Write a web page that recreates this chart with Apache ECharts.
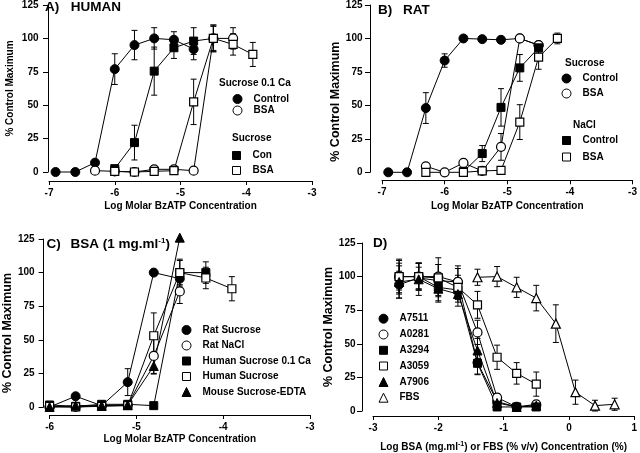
<!DOCTYPE html>
<html><head><meta charset="utf-8">
<script src="https://cdn.jsdelivr.net/npm/echarts@6/dist/echarts.min.js"></script>
<style>html,body{margin:0;padding:0;background:#fff}#c{width:640px;height:453px}</style>
</head><body><div id="c"></div>
<script>
// ---------- Panel A: HUMAN ----------
const aCtrlX = [-6.9,-6.6,-6.3,-6.0,-5.7,-5.4,-5.1,-4.8];
const aCtrlY = [0,0,7,77,95,100,99,92];
const aCtrlE = [0,0,0,11.5,11,8,6,8];
const aBsaX  = [-6.3,-6.0,-5.7,-5.4,-5.1,-4.8,-4.5,-4.2];
const aBsaY  = [1,0.5,0,2,2,1,100,100];
const aBsaE  = [0,0,0,0,0,0,10,8];
const aConX  = [-6.0,-5.7,-5.4,-5.1,-4.8,-4.5];
const aConY  = [2.5,22,75.5,93,98,100];
const aConE  = [0,13,18,8,10,9];
const aSBsaX = [-6.0,-5.7,-5.4,-5.1,-4.8,-4.5,-4.2,-3.9];
const aSBsaY = [0.5,0,0.5,1,52.5,100,95.5,88];
const aSBsaE = [0,0,0,0,17,10,8,9];
// ---------- Panel B: RAT ----------
const bCtrlX = [-6.9,-6.6,-6.3,-6.0,-5.7,-5.4,-5.1,-4.8,-4.5];
const bCtrlY = [0,0,48,83.5,100,99.5,99,100,95];
const bCtrlE = [0,0,11.5,5,0,0,0,0,0];
const bBsaX  = [-6.3,-6.0,-5.7,-5.4,-5.1,-4.8,-4.5];
const bBsaY  = [4.5,0,7,1,19,100,95];
const bBsaE  = [0,0,0,0,10,0,0];
const bNCtrlX = [-5.7,-5.4,-5.1,-4.8,-4.5];
const bNCtrlY = [0.5,14,48.5,78,93];
const bNCtrlE = [0,6,14,10,4];
const bNBsaX = [-6.3,-5.7,-5.4,-5.1,-4.8,-4.5,-4.2];
const bNBsaY = [0,0,1,1.5,37.5,86,100];
const bNBsaE = [0,0,0,0,13,9,4];
// ---------- Panel C: BSA (1 mg/ml) ----------
const cRatSucX = [-6.0,-5.7,-5.4,-5.1,-4.8,-4.5];
const cRatSucY = [0,8,1,18.5,100,95.5];
const cRatSucE = [0,0,0,10,0,0];
const cRatNaX  = [-6.0,-5.7,-5.4,-5.1,-4.8,-4.5];
const cRatNaY  = [0,0,1,1.5,38,86];
const cRatNaE  = [0,0,0,0,13,9];
const cHumCaX  = [-6.0,-5.7,-5.4,-5.1,-4.8,-4.5,-4.2];
const cHumCaY  = [1.5,0.5,2,2,1,100,100];
const cHumCaE  = [0,0,0,0,0,10,8];
const cHumX    = [-6.0,-5.7,-5.4,-5.1,-4.8,-4.5,-4.2,-3.9];
const cHumY    = [0.5,0,0.5,1,53,100,96,88];
const cHumE    = [0,0,0,0,17,9,8,9];
const cMouseX  = [-6.0,-5.7,-5.4,-5.1,-4.8,-4.5];
const cMouseY  = [0,1,1,1.5,30.5,126];
const cMouseE  = [0,0,0,0,6,0];
// ---------- Panel D ----------
const dX      = [-2.6,-2.3,-2.0,-1.7,-1.4,-1.1,-0.8,-0.5];
const dA7511  = [94,99,97,96,36,7,3,4];
const dA7511E = [10,8,12,10,9,3,2,3];
const dA0281  = [100,100,100,96,58.5,10,3,5];
const dA0281E = [13,10,14,12,9,3,2,2];
const dA3294  = [100,100,92,90,35.5,3,3,3];
const dA3294E = [12,10,10,9,8,2,2,2];
const dA3059  = [100,100,99,92,79,40,28,20];
const dA3059E = [10,10,10,9,10,9,8,9];
const dA7906  = [96,98,91,87,45,6,3,4];
const dA7906E = [12,12,10,9,9,3,2,2];
const dFbsX   = [-1.4,-1.1,-0.8,-0.5,-0.2,0.1,0.4,0.7];
const dFbs    = [99.5,100,92,84,65,14,4,5];
const dFbsE   = [6,7.5,7.5,9.5,14,9,4,4.5];

const yTicks = [0,25,50,75,100,125];

const FONT = '"Liberation Sans", Arial, Helvetica, sans-serif';
const BLACK = '#000';

function errRender(params, api){
  const x = api.value(0), lo = api.value(1), hi = api.value(2);
  const p1 = api.coord([x, lo]), p2 = api.coord([x, hi]);
  const w = 3, st = {stroke: BLACK, lineWidth: 1};
  return {type:'group', children:[
    {type:'line', shape:{x1:p1[0],y1:p1[1],x2:p2[0],y2:p2[1]}, style:st},
    {type:'line', shape:{x1:p1[0]-w,y1:p1[1],x2:p1[0]+w,y2:p1[1]}, style:st},
    {type:'line', shape:{x1:p2[0]-w,y1:p2[1],x2:p2[0]+w,y2:p2[1]}, style:st}
  ]};
}

const series = [];
const SIZE = {circle:9, rect:8, triangle:9};
function addSeries(g, name, xs, ys, es, sym, filled){
  const ed = [];
  xs.forEach((x,i)=>{ if(es[i]>0) ed.push([x, ys[i]-es[i], ys[i]+es[i]]); });
  series.push({type:'custom', name:name+'_err', xAxisIndex:g, yAxisIndex:g, z:1, silent:true,
    encode:{x:0, y:[1,2]}, data:ed, renderItem:errRender, clip:false});
  series.push({type:'line', name, xAxisIndex:g, yAxisIndex:g, z:2,
    data: xs.map((x,i)=>[x, ys[i]]), symbol:sym, symbolSize:SIZE[sym],
    showSymbol:true, showAllSymbol:true, clip:false, silent:true,
    lineStyle:{color:BLACK, width:1},
    itemStyle: filled ? {color:BLACK, borderColor:BLACK, borderWidth:1}
                      : {color:'#fff', borderColor:BLACK, borderWidth:1.2},
    emphasis:{disabled:true}});
}

const legends = [];
function addLegend(name, label, icon, cx, cy){
  const s = SIZE[icon];
  legends.push({show:true, data:[{name, icon}], left:cx-s/2, top:cy-6, orient:'vertical',
    padding:0, itemWidth:s, itemHeight:s, selectedMode:false,
    itemStyle:{borderWidth:1},
    formatter:()=>label,
    textStyle:{fontSize:10, fontWeight:'bold', fontFamily:FONT, color:BLACK, lineHeight:12,
      padding:[0,0,0,16 - s/2 - 5]}});
}

// Panel A
addSeries(0,'aCtrl',aCtrlX,aCtrlY,aCtrlE,'circle',true);
addSeries(0,'aBsa',aBsaX,aBsaY,aBsaE,'circle',false);
addSeries(0,'aCon',aConX,aConY,aConE,'rect',true);
addSeries(0,'aSBsa',aSBsaX,aSBsaY,aSBsaE,'rect',false);
// Panel B
addSeries(1,'bCtrl',bCtrlX,bCtrlY,bCtrlE,'circle',true);
addSeries(1,'bBsa',bBsaX,bBsaY,bBsaE,'circle',false);
addSeries(1,'bNCtrl',bNCtrlX,bNCtrlY,bNCtrlE,'rect',true);
addSeries(1,'bNBsa',bNBsaX,bNBsaY,bNBsaE,'rect',false);
// Panel C
addSeries(2,'cRatSuc',cRatSucX,cRatSucY,cRatSucE,'circle',true);
addSeries(2,'cRatNa',cRatNaX,cRatNaY,cRatNaE,'circle',false);
addSeries(2,'cHumCa',cHumCaX,cHumCaY,cHumCaE,'rect',true);
addSeries(2,'cHum',cHumX,cHumY,cHumE,'rect',false);
addSeries(2,'cMouse',cMouseX,cMouseY,cMouseE,'triangle',true);
// Panel D
addSeries(3,'dA7511',dX,dA7511,dA7511E,'circle',true);
addSeries(3,'dA0281',dX,dA0281,dA0281E,'circle',false);
addSeries(3,'dA3294',dX,dA3294,dA3294E,'rect',true);
addSeries(3,'dA3059',dX,dA3059,dA3059E,'rect',false);
addSeries(3,'dA7906',dX,dA7906,dA7906E,'triangle',true);
addSeries(3,'dFbs',dFbsX,dFbs,dFbsE,'triangle',false);

// Legends
addLegend('aCtrl','Control','circle',237,99);
addLegend('aBsa','BSA','circle',237,110.5);
addLegend('aCon','Con','rect',236,155.5);
addLegend('aSBsa','BSA','rect',236,170.5);
addLegend('bCtrl','Control','circle',566,78.5);
addLegend('bBsa','BSA','circle',566,93.5);
addLegend('bNCtrl','Control','rect',566,140.5);
addLegend('bNBsa','BSA','rect',566,157);
addLegend('cRatSuc','Rat Sucrose','circle',186,330);
addLegend('cRatNa','Rat NaCl','circle',186,345.5);
addLegend('cHumCa','Human Sucrose 0.1 Ca','rect',186,361);
addLegend('cHum','Human Sucrose','rect',186,376.5);
addLegend('cMouse','Mouse Sucrose-EDTA','triangle',186,392);
addLegend('dA7511','A7511','circle',383,318.7);
addLegend('dA0281','A0281','circle',383,334.5);
addLegend('dA3294','A3294','rect',383,350.3);
addLegend('dA3059','A3059','rect',383,366);
addLegend('dA7906','A7906','triangle',383,382);
addLegend('dFbs','FBS','triangle',383,397.7);

const grids = [
  {left:49, top:3.5, width:263, height:168.5},
  {left:382, top:3.6, width:254, height:168.7},
  {left:46.7, top:239, width:263.3, height:168},
  {left:373, top:243, width:265, height:168}
];
const lbl = {fontSize:10, fontWeight:'bold', fontFamily:FONT, color:BLACK};
function xAx(g, min, max, off, name, gap, rich){
  return {type:'value', gridIndex:g, min, max, interval:1, offset:off,
    axisLine:{show:true, onZero:false, lineStyle:{color:BLACK, width:1}},
    axisTick:{show:true, length:4, lineStyle:{color:BLACK}},
    axisLabel:Object.assign({margin:7, showMinLabel:true, showMaxLabel:true}, lbl),
    splitLine:{show:false},
    name, nameLocation:'middle', nameGap:gap,
    nameTextStyle:Object.assign({}, lbl, rich ? {rich} : {})};
}
function yAx(g, off, margin, nameSize, gap, shift){
  return {type:'value', gridIndex:g, min:yTicks[0], max:yTicks[yTicks.length-1], interval:25, offset:off,
    axisLine:{show:true, onZero:false, lineStyle:{color:BLACK, width:1}},
    axisTick:{show:true, length:5, lineStyle:{color:BLACK}},
    axisLabel:Object.assign({margin}, lbl),
    splitLine:{show:false},
    name:'% Control Maximum', nameLocation:'middle', nameGap:gap,
    nameTextStyle:Object.assign({}, lbl, {fontSize:nameSize, padding:[0, 2*shift, 0, 0]})};
}
const xName = 'Log Molar BzATP Concentration';
const dRich = {
  n:{fontSize:10, fontWeight:'bold', fontFamily:FONT, color:BLACK, lineHeight:12},
  s:{fontSize:7, fontWeight:'bold', fontFamily:FONT, color:BLACK, lineHeight:7, verticalAlign:'top'}
};
const xAxes = [
  xAx(0,-7,-3,9,xName,20),
  xAx(1,-7,-3,8,xName,21),
  xAx(2,-6,-3,8,xName,19),
  xAx(3,-3,1,5,'{n|Log BSA (mg.ml}{s|-1}{n|) or FBS (% v/v) Concentration (%)}',25,dRich)
];
const yAxes = [
  yAx(0,1,9.5,10,33,0),
  yAx(1,12,7.5,12.5,25.5,13),
  yAx(2,6,9,12.5,29.5,10),
  yAx(3,11,6.5,12.5,25.5,0)
];

const tStyle = {fontSize:13.5, fontWeight:'bold', fontFamily:FONT, color:BLACK, lineHeight:15};
const titles = [
  {text:'A)', left:45, top:0},
  {text:'HUMAN', left:70.7, top:0},
  {text:'B)', left:378, top:2.5},
  {text:'RAT', left:403, top:2.5},
  {text:'C)', left:46.5, top:236.5},
  {text:'{m|BSA (1 mg.ml}{s|-1}{m|)}', left:70.5, top:236.5, rich:true},
  {text:'D)', left:373, top:235.5}
].map(t=>({text:t.text, left:t.left, top:t.top, padding:0,
  textStyle:Object.assign({}, tStyle, t.rich ? {rich:{
    m:Object.assign({}, tStyle),
    s:{fontSize:8, fontWeight:'bold', fontFamily:FONT, color:BLACK, lineHeight:8, verticalAlign:'top'}
  }} : {})}));

const headStyle = {fontSize:10, fontWeight:'bold', fontFamily:FONT, fill:BLACK};
const heads = [
  {t:'Sucrose 0.1 Ca', x:219, y:84},
  {t:'Sucrose', x:232, y:139},
  {t:'Sucrose', x:565, y:64},
  {t:'NaCl', x:573, y:126}
].map(h=>({type:'text', left:h.x, top:h.y-6, silent:true,
  style:Object.assign({text:h.t}, headStyle)}));

const chart = echarts.init(document.getElementById('c'), null, {renderer:'canvas'});
chart.setOption({
  animation:false,
  backgroundColor:'#fff',
  textStyle:{fontFamily:FONT},
  title:titles,
  grid:grids,
  xAxis:xAxes,
  yAxis:yAxes,
  legend:legends,
  graphic:heads,
  series
});
</script>
</body></html>
